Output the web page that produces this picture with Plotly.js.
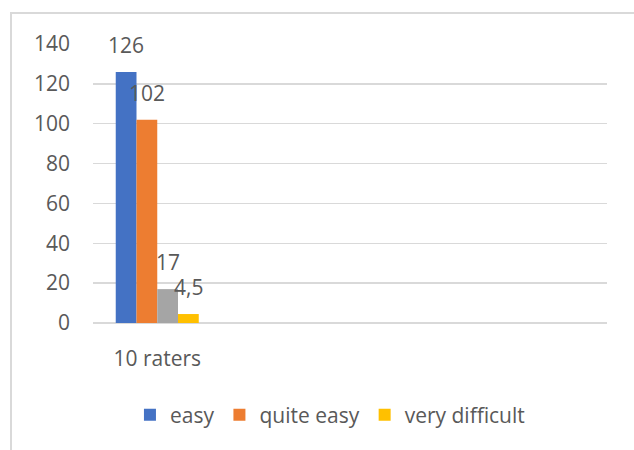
<!DOCTYPE html>
<html>
<head>
<meta charset="utf-8">
<script src="https://cdn.plot.ly/plotly-3.0.1.min.js"></script>
<style>html,body{margin:0;padding:0;background:#fff;}#chart{width:634px;height:450px;}</style>
</head>
<body>
<div id="chart"></div>
<script>
var categories = ["10 raters"];
var seriesNames = ["easy", "quite easy", "", "very difficult"];
var easyValues = [126];
var quiteEasyValues = [102];
var grayValues = [17];
var veryDifficultValues = [4.5];
var yTickValues = [0, 20, 40, 60, 80, 100, 120, 140];

var colors = ["#4472C4", "#ED7D31", "#A5A5A5", "#FFC000"];
var allValues = [easyValues, quiteEasyValues, grayValues, veryDifficultValues];
var font = {family: "Open Sans, Noto Sans, sans-serif", size: 21, color: "#595959"};

var nCats = 4;           // the axis holds four category slots
var bargap = 0.354;
var barW = (1 - bargap) / allValues.length;

var traces = allValues.map(function (vals, i) {
  return {
    type: "bar",
    name: seriesNames[i],
    x: categories.map(function (c, k) { return k; }),
    y: vals,
    marker: {color: colors[i]},
    showlegend: seriesNames[i] !== "",
    hoverinfo: "skip"
  };
});

var annotations = [];
allValues.forEach(function (vals, i) {
  vals.forEach(function (v, k) {
    annotations.push({
      x: k - (1 - bargap) / 2 + barW * (i + 0.5),
      y: v,
      xref: "x", yref: "y",
      text: String(v).replace(".", ","),
      showarrow: false,
      yanchor: "bottom",
      yshift: 11,
      font: font
    });
  });
});

var layout = {
  width: 634, height: 450,
  margin: {l: 93, r: 27, t: 44, b: 127},
  paper_bgcolor: "#ffffff",
  plot_bgcolor: "#ffffff",
  barmode: "group",
  bargap: bargap,
  bargroupgap: 0,
  separators: ",.",
  font: font,
  xaxis: {
    range: [-0.5, nCats - 0.5],
    tickvals: categories.map(function (c, k) { return k; }),
    ticktext: categories,
    showgrid: false,
    zeroline: false,
    showline: false,
    ticks: "",
    ticklabelstandoff: 21,
    tickfont: font,
    fixedrange: true
  },
  yaxis: {
    range: [0, 140],
    tickvals: yTickValues,
    showgrid: true,
    gridcolor: "#D9D9D9",
    gridwidth: 1.5,
    zeroline: true,
    zerolinecolor: "#D9D9D9",
    zerolinewidth: 1.5,
    showline: false,
    ticks: "",
    ticklabelstandoff: 22,
    tickfont: font,
    fixedrange: true
  },
  legend: {
    orientation: "h",
    x: 0.461, xanchor: "center",
    y: -0.33, yanchor: "middle",
    font: font,
    traceorder: "normal",
    itemwidth: 30,
    bgcolor: "rgba(0,0,0,0)"
  },
  annotations: annotations,
  shapes: [{
    type: "rect", xref: "paper", yref: "paper",
    x0: (11 - 93) / 514, x1: (700 - 93) / 514,
    y0: (323 - 500) / 279, y1: (323 - 13) / 279,
    line: {color: "#D9D9D9", width: 2},
    fillcolor: "rgba(0,0,0,0)",
    layer: "below"
  }]
};

Plotly.newPlot("chart", traces, layout, {displayModeBar: false, staticPlot: true});
</script>
</body>
</html>
